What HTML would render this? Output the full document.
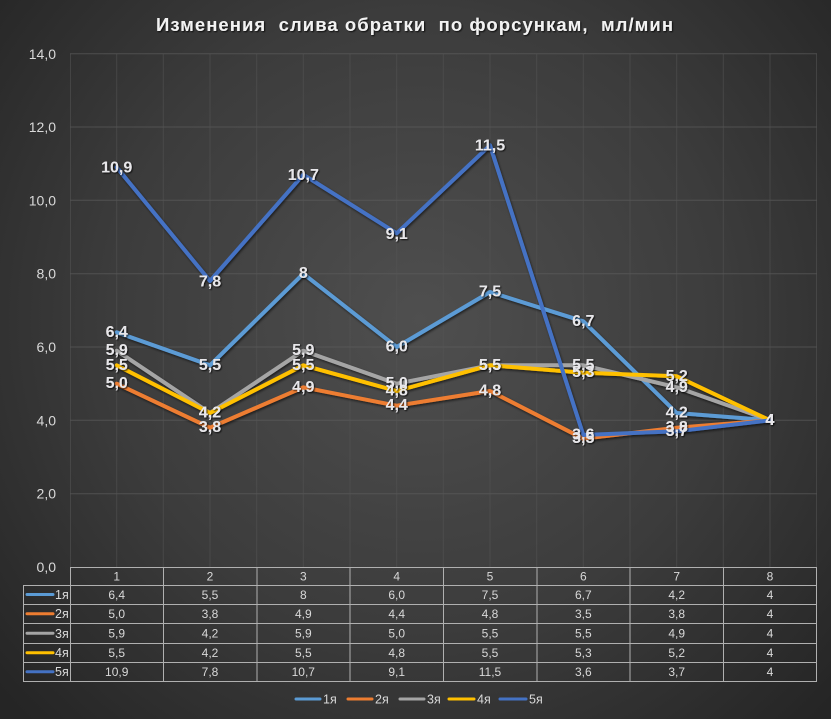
<!DOCTYPE html>
<html>
<head>
<meta charset="utf-8">
<style>
html,body{margin:0;padding:0;background:#2a2a2a;}
svg{display:block;}
text{font-family:"Liberation Sans","Noto Sans CJK SC",sans-serif;}
.lbl{font-size:16px;font-weight:bold;fill:#e8e7ea;text-anchor:middle;dominant-baseline:central;}
.tt{font-size:12px;fill:#d9d9d9;text-anchor:middle;dominant-baseline:central;}
.ax{font-size:14px;fill:#d9d9d9;text-anchor:end;dominant-baseline:central;}
.lg{font-size:12.5px;fill:#d9d9d9;dominant-baseline:central;}
</style>
</head>
<body>
<svg width="831" height="719" viewBox="0 0 831 719" xmlns="http://www.w3.org/2000/svg">
<defs>
<radialGradient id="bg" cx="420" cy="320" r="560" gradientUnits="userSpaceOnUse">
<stop offset="0" stop-color="#4f4f4f"/>
<stop offset="0.55" stop-color="#3c3c3c"/>
<stop offset="1" stop-color="#252525"/>
</radialGradient>
<filter id="sh" x="-10%" y="-10%" width="120%" height="130%">
<feDropShadow dx="1" dy="1.5" stdDeviation="1.2" flood-color="#000" flood-opacity="0.6"/>
</filter>
<filter id="tsh" x="-10%" y="-30%" width="120%" height="160%">
<feDropShadow dx="1" dy="1" stdDeviation="0.8" flood-color="#000" flood-opacity="0.8"/>
</filter>
</defs>
<rect x="0" y="0" width="831" height="719" fill="url(#bg)"/>

<!-- title -->
<text x="156" y="31" font-size="18.5" font-weight="bold" fill="#f2f2f2" textLength="517" lengthAdjust="spacing" filter="url(#tsh)" style="white-space:pre">Изменения  слива обратки  по форсункам,  мл/мин</text>

<!-- gridlines -->
<g stroke="#5e5e5e" stroke-width="1" opacity="0.65">
<line x1="70" y1="53.7" x2="817" y2="53.7"/>
<line x1="70" y1="127" x2="817" y2="127"/>
<line x1="70" y1="200.3" x2="817" y2="200.3"/>
<line x1="70" y1="273.7" x2="817" y2="273.7"/>
<line x1="70" y1="347" x2="817" y2="347"/>
<line x1="70" y1="420.3" x2="817" y2="420.3"/>
<line x1="70" y1="493.7" x2="817" y2="493.7"/>
</g>
<g stroke="#555" stroke-width="1" opacity="0.55">
<line x1="70.5" y1="53.7" x2="70.5" y2="567"/>
<line x1="116.7" y1="53.7" x2="116.7" y2="567"/>
<line x1="163.3" y1="53.7" x2="163.3" y2="567"/>
<line x1="210" y1="53.7" x2="210" y2="567"/>
<line x1="256.7" y1="53.7" x2="256.7" y2="567"/>
<line x1="303.3" y1="53.7" x2="303.3" y2="567"/>
<line x1="350" y1="53.7" x2="350" y2="567"/>
<line x1="396.7" y1="53.7" x2="396.7" y2="567"/>
<line x1="443.3" y1="53.7" x2="443.3" y2="567"/>
<line x1="490" y1="53.7" x2="490" y2="567"/>
<line x1="536.7" y1="53.7" x2="536.7" y2="567"/>
<line x1="583.3" y1="53.7" x2="583.3" y2="567"/>
<line x1="630" y1="53.7" x2="630" y2="567"/>
<line x1="676.7" y1="53.7" x2="676.7" y2="567"/>
<line x1="723.3" y1="53.7" x2="723.3" y2="567"/>
<line x1="770" y1="53.7" x2="770" y2="567"/>
<line x1="816.5" y1="53.7" x2="816.5" y2="567"/>
</g>

<!-- y axis labels -->
<g>
<text class="ax" x="56" y="54">14,0</text>
<text class="ax" x="56" y="127">12,0</text>
<text class="ax" x="56" y="200.3">10,0</text>
<text class="ax" x="56" y="273.7">8,0</text>
<text class="ax" x="56" y="347">6,0</text>
<text class="ax" x="56" y="420.3">4,0</text>
<text class="ax" x="56" y="493.7">2,0</text>
<text class="ax" x="56" y="567">0,0</text>
</g>

<!-- series lines -->
<g fill="none" stroke-width="4" stroke-linejoin="round" stroke-linecap="round" filter="url(#sh)">
<polyline stroke="#5b9bd5" points="116.7,332.3 210,365.3 303.3,273.7 396.7,347 490,292 583.3,321.3 676.7,413 770,420.3"/>
<polyline stroke="#ed7d31" points="116.7,383.7 210,427.7 303.3,387.3 396.7,405.7 490,391 583.3,438.7 676.7,427.7 770,420.3"/>
<polyline stroke="#a5a5a5" points="116.7,350.7 210,413 303.3,350.7 396.7,383.7 490,365.3 583.3,365.3 676.7,387.3 770,420.3"/>
<polyline stroke="#ffc000" points="116.7,365.3 210,413 303.3,365.3 396.7,391 490,365.3 583.3,372.7 676.7,376.3 770,420.3"/>
<polyline stroke="#4472c4" points="116.7,167.3 210,281 303.3,174.7 396.7,233.3 490,145.3 583.3,435 676.7,431.3 770,420.3"/>
</g>

<!-- data labels -->
<g filter="url(#tsh)">
<text class="lbl" x="116.7" y="332.3">6,4</text>
<text class="lbl" x="210" y="365.3">5,5</text>
<text class="lbl" x="303.3" y="273.7">8</text>
<text class="lbl" x="396.7" y="347">6,0</text>
<text class="lbl" x="490" y="292">7,5</text>
<text class="lbl" x="583.3" y="321.3">6,7</text>
<text class="lbl" x="676.7" y="413">4,2</text>
<text class="lbl" x="770" y="420.3">4</text>

<text class="lbl" x="116.7" y="383.7">5,0</text>
<text class="lbl" x="210" y="427.7">3,8</text>
<text class="lbl" x="303.3" y="387.3">4,9</text>
<text class="lbl" x="396.7" y="405.7">4,4</text>
<text class="lbl" x="490" y="391">4,8</text>
<text class="lbl" x="583.3" y="438.7">3,5</text>
<text class="lbl" x="676.7" y="427.7">3,8</text>
<text class="lbl" x="770" y="420.3">4</text>

<text class="lbl" x="116.7" y="350.7">5,9</text>
<text class="lbl" x="210" y="413">4,2</text>
<text class="lbl" x="303.3" y="350.7">5,9</text>
<text class="lbl" x="396.7" y="383.7">5,0</text>
<text class="lbl" x="490" y="365.3">5,5</text>
<text class="lbl" x="583.3" y="365.3">5,5</text>
<text class="lbl" x="676.7" y="387.3">4,9</text>
<text class="lbl" x="770" y="420.3">4</text>

<text class="lbl" x="116.7" y="365.3">5,5</text>
<text class="lbl" x="210" y="413">4,2</text>
<text class="lbl" x="303.3" y="365.3">5,5</text>
<text class="lbl" x="396.7" y="391">4,8</text>
<text class="lbl" x="490" y="365.3">5,5</text>
<text class="lbl" x="583.3" y="372.7">5,3</text>
<text class="lbl" x="676.7" y="376.3">5,2</text>
<text class="lbl" x="770" y="420.3">4</text>

<text class="lbl" x="116.7" y="168">10,9</text>
<text class="lbl" x="210" y="282">7,8</text>
<text class="lbl" x="303.3" y="175.5">10,7</text>
<text class="lbl" x="396.7" y="234.5">9,1</text>
<text class="lbl" x="490" y="146">11,5</text>
<text class="lbl" x="583.3" y="435">3,6</text>
<text class="lbl" x="676.7" y="431.3">3,7</text>
<text class="lbl" x="770" y="420.3">4</text>
</g>

<!-- data table -->
<g stroke="#b0b0b0" stroke-width="1" fill="none">
<line x1="70" y1="567.5" x2="817" y2="567.5"/>
<line x1="23" y1="585.5" x2="817" y2="585.5"/>
<line x1="23" y1="604.5" x2="817" y2="604.5"/>
<line x1="23" y1="623.5" x2="817" y2="623.5"/>
<line x1="23" y1="643.5" x2="817" y2="643.5"/>
<line x1="23" y1="662.5" x2="817" y2="662.5"/>
<line x1="23" y1="681.5" x2="817" y2="681.5"/>
<line x1="23.5" y1="585.5" x2="23.5" y2="681.5"/>
<line x1="70.5" y1="567.5" x2="70.5" y2="681.5"/>
<line x1="163.5" y1="567.5" x2="163.5" y2="681.5"/>
<line x1="257" y1="567.5" x2="257" y2="681.5"/>
<line x1="350" y1="567.5" x2="350" y2="681.5"/>
<line x1="443.5" y1="567.5" x2="443.5" y2="681.5"/>
<line x1="537" y1="567.5" x2="537" y2="681.5"/>
<line x1="630" y1="567.5" x2="630" y2="681.5"/>
<line x1="723.5" y1="567.5" x2="723.5" y2="681.5"/>
<line x1="816.5" y1="567.5" x2="816.5" y2="681.5"/>
</g>

<!-- table legend keys -->
<g stroke-width="3" stroke-linecap="round">
<line x1="27" y1="594.5" x2="53" y2="594.5" stroke="#5b9bd5"/>
<line x1="27" y1="613.7" x2="53" y2="613.7" stroke="#ed7d31"/>
<line x1="27" y1="633.3" x2="53" y2="633.3" stroke="#a5a5a5"/>
<line x1="27" y1="652.8" x2="53" y2="652.8" stroke="#ffc000"/>
<line x1="27" y1="671.8" x2="53" y2="671.8" stroke="#4472c4"/>
</g>
<text class="lg" x="55" y="595">1я</text>
<text class="lg" x="55" y="614">2я</text>
<text class="lg" x="55" y="634">3я</text>
<text class="lg" x="55" y="653">4я</text>
<text class="lg" x="55" y="672">5я</text>

<!-- header row -->
<g>
<text class="tt" x="116.7" y="576.5">1</text>
<text class="tt" x="210" y="576.5">2</text>
<text class="tt" x="303.3" y="576.5">3</text>
<text class="tt" x="396.7" y="576.5">4</text>
<text class="tt" x="490" y="576.5">5</text>
<text class="tt" x="583.3" y="576.5">6</text>
<text class="tt" x="676.7" y="576.5">7</text>
<text class="tt" x="770" y="576.5">8</text>
</g>
<g>
<text class="tt" x="116.7" y="595">6,4</text>
<text class="tt" x="210" y="595">5,5</text>
<text class="tt" x="303.3" y="595">8</text>
<text class="tt" x="396.7" y="595">6,0</text>
<text class="tt" x="490" y="595">7,5</text>
<text class="tt" x="583.3" y="595">6,7</text>
<text class="tt" x="676.7" y="595">4,2</text>
<text class="tt" x="770" y="595">4</text>

<text class="tt" x="116.7" y="614">5,0</text>
<text class="tt" x="210" y="614">3,8</text>
<text class="tt" x="303.3" y="614">4,9</text>
<text class="tt" x="396.7" y="614">4,4</text>
<text class="tt" x="490" y="614">4,8</text>
<text class="tt" x="583.3" y="614">3,5</text>
<text class="tt" x="676.7" y="614">3,8</text>
<text class="tt" x="770" y="614">4</text>

<text class="tt" x="116.7" y="633.5">5,9</text>
<text class="tt" x="210" y="633.5">4,2</text>
<text class="tt" x="303.3" y="633.5">5,9</text>
<text class="tt" x="396.7" y="633.5">5,0</text>
<text class="tt" x="490" y="633.5">5,5</text>
<text class="tt" x="583.3" y="633.5">5,5</text>
<text class="tt" x="676.7" y="633.5">4,9</text>
<text class="tt" x="770" y="633.5">4</text>

<text class="tt" x="116.7" y="653">5,5</text>
<text class="tt" x="210" y="653">4,2</text>
<text class="tt" x="303.3" y="653">5,5</text>
<text class="tt" x="396.7" y="653">4,8</text>
<text class="tt" x="490" y="653">5,5</text>
<text class="tt" x="583.3" y="653">5,3</text>
<text class="tt" x="676.7" y="653">5,2</text>
<text class="tt" x="770" y="653">4</text>

<text class="tt" x="116.7" y="672">10,9</text>
<text class="tt" x="210" y="672">7,8</text>
<text class="tt" x="303.3" y="672">10,7</text>
<text class="tt" x="396.7" y="672">9,1</text>
<text class="tt" x="490" y="672">11,5</text>
<text class="tt" x="583.3" y="672">3,6</text>
<text class="tt" x="676.7" y="672">3,7</text>
<text class="tt" x="770" y="672">4</text>
</g>

<!-- bottom legend -->
<g stroke-width="3" stroke-linecap="round">
<line x1="296" y1="699" x2="320" y2="699" stroke="#5b9bd5"/>
<line x1="348" y1="699" x2="372" y2="699" stroke="#ed7d31"/>
<line x1="400" y1="699" x2="424" y2="699" stroke="#a5a5a5"/>
<line x1="449" y1="699" x2="474" y2="699" stroke="#ffc000"/>
<line x1="500" y1="699" x2="526" y2="699" stroke="#4472c4"/>
</g>
<text class="lg" x="323" y="699.5">1я</text>
<text class="lg" x="375" y="699.5">2я</text>
<text class="lg" x="427" y="699.5">3я</text>
<text class="lg" x="477" y="699.5">4я</text>
<text class="lg" x="529" y="699.5">5я</text>
</svg>
</body>
</html>
